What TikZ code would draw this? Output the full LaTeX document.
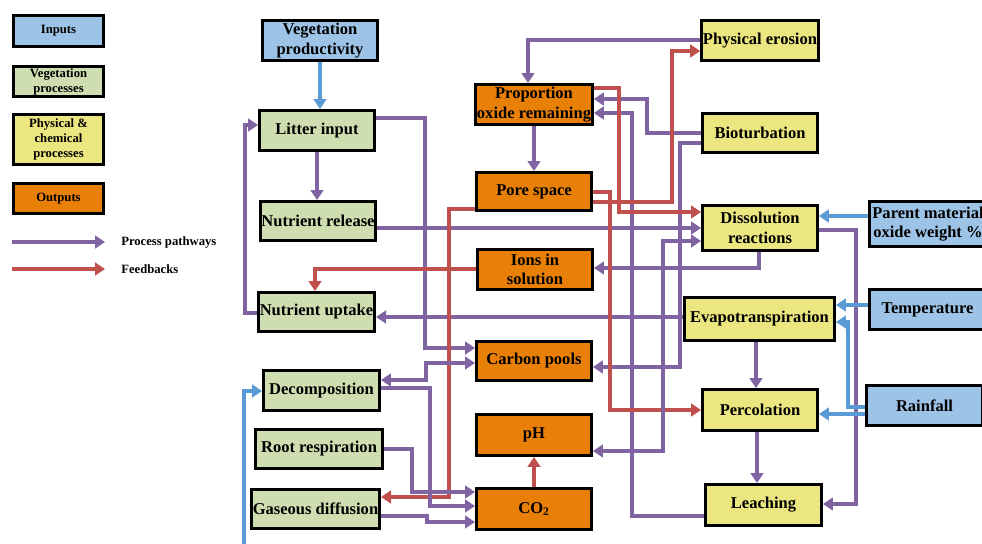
\documentclass[tikz,border=0pt]{standalone}
\usepackage{fontspec}
\setmainfont{Liberation Serif}
\usetikzlibrary{arrows.meta}
\definecolor{inblue}{RGB}{157,195,230}
\definecolor{veggreen}{RGB}{207,222,176}
\definecolor{phyyellow}{RGB}{235,230,128}
\definecolor{outorange}{RGB}{232,128,8}
\definecolor{ppurple}{RGB}{128,100,162}
\definecolor{fbred}{RGB}{192,80,77}
\definecolor{blline}{RGB}{91,155,213}
\newcommand\mfnt{\fontsize{12.4}{14.5}\selectfont\bfseries}
\newcommand\lfnt{\fontsize{9.5}{11.3}\selectfont\bfseries}
\tikzset{
  box/.style={draw=black, line width=2.2pt, rectangle, inner sep=1pt, align=center, font=\mfnt},
  sz/.style 2 args={minimum width=#1*0.75pt, minimum height=#2*0.75pt},
  inp/.style={box, fill=inblue},
  veg/.style={box, fill=veggreen},
  phy/.style={box, fill=phyyellow},
  outp/.style={box, fill=outorange},
  lbox/.style={box, font=\lfnt},
  tip/.tip={Triangle[length=7.5pt,width=9.5pt]},
  pp/.style={draw=ppurple, line width=2.4pt, -tip},
  fb/.style={draw=fbred, line width=2.4pt, -tip},
  bl/.style={draw=blline, line width=2.4pt, -tip},
  both/.style={tip-tip},
  ltext/.style={anchor=west, font=\lfnt, inner sep=0pt},
}
\begin{document}
\begin{tikzpicture}[x=0.75pt, y=-0.75pt]
\clip (0,0) rectangle (982,543);
\fill[white] (0,0) rectangle (982,543);
% legend
\node[lbox, fill=inblue, sz={90}{31}] (lin) at (58.5,31) {Inputs};
\node[lbox, fill=veggreen, sz={90}{30}] (lveg) at (58.5,81.5) {Vegetation\\processes};
\node[lbox, fill=phyyellow, sz={90}{50}] (lphy) at (58.5,139.5) {Physical \&\\chemical\\processes};
\node[lbox, fill=outorange, sz={90}{30}] (lout) at (58.5,198.5) {Outputs};
\coordinate (lpa) at (12,242); \coordinate (lpb) at (105,242);
\coordinate (lfa) at (12,269); \coordinate (lfb) at (105,269);
\draw[pp] (lpa) -- (lpb);
\draw[fb] (lfa) -- (lfb);
\node[ltext] (tpp) at (121,242) {Process pathways};
\node[ltext] (tfb) at (121,269) {Feedbacks};
% vegetation column
\node[inp, sz={115}{40}] (vegprod) at (320,40.5) {Vegetation\\productivity};
\node[veg, sz={115}{40}] (litter) at (317,130.5) {Litter input};
\node[veg, sz={115}{39}] (nrel) at (318,221) {Nutrient release};
\node[veg, sz={116}{39}] (nupt) at (316.5,312) {Nutrient uptake};
\node[veg, sz={116}{40}] (decomp) at (321.5,390.5) {Decomposition};
\node[veg, sz={127}{39}] (rootr) at (319,449) {Root respiration};
\node[veg, sz={128}{39}] (gasd) at (315.5,509) {Gaseous diffusion};
% output column
\node[outp, sz={115}{40}] (propox) at (534,104.5) {Proportion\\oxide remaining};
\node[outp, sz={115}{38}] (pore) at (534,191.5) {Pore space};
\node[outp, sz={115}{40}] (ions) at (535,269.5) {Ions in\\solution};
\node[outp, sz={115}{39}] (carbon) at (534,361) {Carbon pools};
\node[outp, sz={115}{41}] (ph) at (534,435) {pH};
\node[outp, sz={115}{41}] (co2) at (534,509) {CO\textsubscript{2}};
% physical column
\node[phy, sz={115}{40}] (phyer) at (760,40.5) {Physical erosion};
\node[phy, sz={115}{39}] (biot) at (760,133) {Bioturbation};
\node[phy, sz={115}{45}] (diss) at (760,228) {Dissolution\\reactions};
\node[phy, sz={150}{43}] (evap) at (759.5,319) {Evapotranspiration};
\node[phy, sz={115}{41}] (perc) at (760,410) {Percolation};
\node[phy, sz={116}{41}] (leach) at (763.5,505) {Leaching};
% inputs right
\node[inp, sz={117}{45}] (parent) at (928,224) {Parent material\\oxide weight \%};
\node[inp, sz={116}{40}] (temp) at (927.5,309.5) {Temperature};
\node[inp, sz={116}{40}] (rain) at (924.5,405.5) {Rainfall};
\coordinate (bsrc) at (244,560);
% connectors
\draw[bl] (vegprod.south) -- (vegprod.south |- litter.north);
\draw[pp] (litter.south) -- (litter.south |- nrel.north);
\draw[pp] (litter.east |- 0,118) -| (425,348) -- (carbon.west |- 0,348);
\draw[pp] (nupt.west |- 0,313) -| (245,125) -- (litter.west |- 0,125);
\draw[pp] (nrel.east |- 0,228) -- (diss.west |- 0,228);
\draw[fb] (ions.west |- 0,269) -| (315,0 |- nupt.north);
\draw[pp] (evap.west |- 0,317) -- (nupt.east |- 0,317);
\draw[pp] (759,0 |- diss.south) |- (ions.east |- 0,268);
\draw[pp] (biot.west |- 0,133) -| (647,99) -- (propox.east |- 0,99);
\draw[pp] (biot.west |- 0,143) -| (680,367) -- (carbon.east |- 0,367);
\draw[pp] (leach.west |- 0,516) -| (632,113) -- (propox.east |- 0,113);
\draw[pp] (phyer.west |- 0,40) -| (528,0 |- propox.north);
\draw[fb] (pore.east |- 0,202) -| (672,51) -- (phyer.west |- 0,51);
\draw[fb] (propox.east |- 0,88) -| (619,212) -- (diss.west |- 0,212);
\draw[fb] (pore.east |- 0,192) -| (610,410) -- (perc.west |- 0,410);
\draw[fb] (pore.west |- 0,209) -| (449,497) -- (gasd.east |- 0,497);
\draw[pp] (rootr.east |- 0,449) -| (412,492) -- (co2.west |- 0,492);
\draw[pp] (decomp.east |- 0,388) -| (430,506) -- (co2.west |- 0,506);
\draw[pp] (gasd.east |- 0,516) -| (427,522) -- (co2.west |- 0,522);
\draw[pp, both] (decomp.east |- 0,380) -| (426,363) -- (carbon.west |- 0,363);
\draw[fb] (co2.north) -- (ph.south);
\draw[pp, both] (ph.east |- 0,451) -| (663,241) -- (diss.west |- 0,241);
\draw[pp] (diss.east |- 0,230) -| (856,504) -- (leach.east |- 0,504);
\draw[bl] (parent.west |- 0,216) -- (diss.east |- 0,216);
\draw[bl] (temp.west |- 0,305) -- (evap.east |- 0,305);
\draw[bl] (rain.west |- 0,407) -| (848,322) -- (evap.east |- 0,322);
\draw[bl] (rain.west |- 0,414) -- (perc.east |- 0,414);
\draw[pp] (756,0 |- evap.south) -- (756,0 |- perc.north);
\draw[pp] (757,0 |- perc.south) -- (757,0 |- leach.north);
\draw[pp] (propox.south) -- (pore.north);
\draw[bl] (bsrc) |- (decomp.west |- 0,391);
\end{tikzpicture}
\end{document}
